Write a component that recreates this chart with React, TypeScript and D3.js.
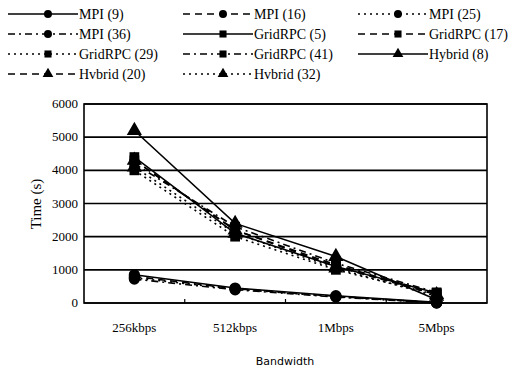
import React from 'react';
import * as d3 from 'd3';

// x categories and series values (seconds)
const categories = ['256kbps', '512kbps', '1Mbps', '5Mbps'];
const yTicks = [0, 1000, 2000, 3000, 4000, 5000, 6000];

const seriesNames = [
  'MPI (9)', 'MPI (16)', 'MPI (25)', 'MPI (36)',
  'GridRPC (5)', 'GridRPC (17)', 'GridRPC (29)', 'GridRPC (41)',
  'Hybrid (8)', 'Hvbrid (20)', 'Hvbrid (32)',
];
const seriesValues = [
  [850, 450, 220, 20],
  [800, 430, 200, 10],
  [760, 420, 190, 10],
  [720, 400, 180, 0],
  [4400, 2100, 1100, 300],
  [4300, 2200, 1150, 280],
  [4000, 2000, 1000, 250],
  [4200, 2300, 1200, 320],
  [5200, 2400, 1400, 100],
  [4300, 2200, 1100, 250],
  [4100, 2100, 1050, 200],
];
const seriesMarker = ['circle', 'circle', 'circle', 'circle', 'square', 'square', 'square', 'square', 'triangle', 'triangle', 'triangle'];
const seriesDash = ['', '7,5', '2,4', '7,4,2,4', '', '7,5', '2,4', '7,4,2,4', '', '7,5', '2,4'];

const SERIF = 'Liberation Serif';

const left = 84, right = 487, top = 104, bottom = 303;
const x = d3.scaleBand().domain(categories).range([left, right]);
const y = d3.scaleLinear().domain([0, 6000]).range([bottom, top]);
const cx = (i: number) => x(categories[i])! + x.bandwidth() / 2;

const symbolFor = (m: string) =>
  m === 'circle' ? d3.symbolCircle : m === 'square' ? d3.symbolSquare : d3.symbolTriangle;
const sizeFor = (m: string) => (m === 'circle' ? 100 : m === 'square' ? 95 : 100);

const line = d3.line<number>().x((_, i) => cx(i)).y(d => y(d));

const colX = [8, 183, 358];
const rowY = [14, 34, 54, 74];

const App = () => (
  <svg width={511} height={370} style={{ position: 'absolute', left: 0, top: 0, background: '#fff' }}>
    {yTicks.map(t => (
      <line key={t} x1={left} x2={right} y1={y(t)} y2={y(t)} stroke="#000" strokeWidth={1.6} />
    ))}
    <rect x={left} y={top} width={right - left} height={bottom - top} fill="none" stroke="#000" strokeWidth={1.6} />
    {categories.slice(1).map(c => (
      <line key={c} x1={x(c)} x2={x(c)} y1={bottom} y2={bottom - 4} stroke="#000" strokeWidth={1.2} />
    ))}
    {yTicks.map(t => (
      <text key={t} x={left - 6} y={y(t) + 4} textAnchor="end" fontSize={13} style={{ fontFamily: SERIF }}>
        {t}
      </text>
    ))}
    {categories.map((c, i) => (
      <text key={c} x={cx(i)} y={332} textAnchor="middle" fontSize={13} style={{ fontFamily: SERIF }}>
        {c}
      </text>
    ))}
    <text x={285} y={365} textAnchor="middle" fontSize={11} style={{ fontFamily: 'DejaVu Sans' }}>
      Bandwidth
    </text>
    <text transform="translate(41,204) rotate(-90)" textAnchor="middle" fontSize={15} style={{ fontFamily: SERIF }}>
      Time (s)
    </text>

    {seriesValues.map((vals, s) => (
      <g key={s}>
        <path d={line(vals) || ''} fill="none" stroke="#000" strokeWidth={1.6} strokeDasharray={seriesDash[s]} />
        {vals.map((v, i) => (
          <path
            key={i}
            transform={`translate(${cx(i)},${y(v)})`}
            d={d3.symbol().type(symbolFor(seriesMarker[s])).size(sizeFor(seriesMarker[s]))() || ''}
            fill="#000"
          />
        ))}
      </g>
    ))}

    {seriesNames.map((name, s) => {
      const lx = colX[s % 3];
      const ly = rowY[Math.floor(s / 3)];
      return (
        <g key={name}>
          <line x1={lx} x2={lx + 70} y1={ly} y2={ly} stroke="#000" strokeWidth={1.6} strokeDasharray={seriesDash[s]} />
          <path
            transform={`translate(${lx + 40},${ly})`}
            d={d3.symbol().type(symbolFor(seriesMarker[s])).size(50)() || ''}
            fill="#000"
          />
          <text x={lx + 71} y={ly + 5} fontSize={14} style={{ fontFamily: SERIF }}>
            {name}
          </text>
        </g>
      );
    })}
  </svg>
);

export default App;
